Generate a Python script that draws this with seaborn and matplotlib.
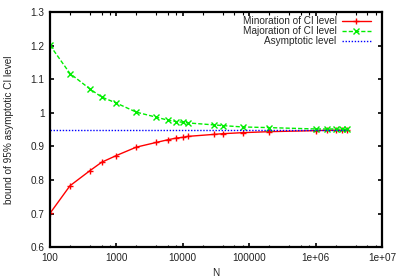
import matplotlib
matplotlib.use("Agg")
import matplotlib.pyplot as plt
import matplotlib.ticker as mticker
import seaborn as sns
import pandas as pd

N = [100, 200, 400, 600, 1000, 2000, 4000, 6000, 8000, 10000, 12000,
     30000, 40000, 80000, 200000, 1000000, 1500000, 2000000, 2500000, 3000000]
minoration = [0.701, 0.783, 0.828, 0.853, 0.873, 0.898, 0.912, 0.920, 0.925, 0.927,
              0.930, 0.936, 0.938, 0.941, 0.944, 0.947, 0.948, 0.948, 0.948, 0.948]
majoration = [1.201, 1.117, 1.071, 1.047, 1.029, 1.002, 0.987, 0.978, 0.974, 0.972,
              0.970, 0.964, 0.962, 0.958, 0.956, 0.952, 0.952, 0.952, 0.951, 0.951]
asymptotic = [0.95] * len(N)

df = pd.DataFrame({'N': N, 'min': minoration, 'maj': majoration, 'asy': asymptotic})

sns.set_style("ticks")
plt.rcParams['font.family'] = ['Liberation Sans', 'DejaVu Sans']

fig = plt.figure(figsize=(4, 2.8), dpi=100)
ax = fig.add_axes([0.125, 0.117, 0.83, 0.84])

sns.lineplot(x='N', y='min', data=df, ax=ax, color='#ff0000', lw=1.0,
             marker='+', markersize=4.5, markeredgewidth=1.0, markeredgecolor='#ff0000',
             label='Minoration of CI level')
sns.lineplot(x='N', y='maj', data=df, ax=ax, color='#00ee00', lw=1.0,
             marker='x', markersize=3.8, markeredgewidth=1.0, markeredgecolor='#00ee00',
             label='Majoration of CI level')
sns.lineplot(x='N', y='asy', data=df, ax=ax, color='#0000ff', lw=1.0,
             label='Asymptotic level')
ax.lines[1].set_linestyle((0, (3, 1.5)))
ax.lines[2].set_linestyle((0, (1, 1.2)))

ax.set_xscale('log')
ax.set_xlim(100, 1e7)
ax.set_ylim(0.6, 1.3)
ax.xaxis.set_minor_locator(mticker.LogLocator(base=10, subs=(2, 4, 6, 8), numticks=10))
ax.xaxis.set_minor_formatter(mticker.NullFormatter())
ax.set_xticks([100, 1000, 10000, 100000, 1e6, 1e7])
ax.set_xticklabels(['100', '1000', '10000', '100000', '1e+06', '1e+07'])
ax.set_yticks([0.6, 0.7, 0.8, 0.9, 1.0, 1.1, 1.2, 1.3])
ax.set_yticklabels(['0.6', '0.7', '0.8', '0.9', '1', '1.1', '1.2', '1.3'])

ax.tick_params(which='major', direction='in', length=3, width=1.2, top=True, right=True,
               labelsize=7.2, pad=4, color='black', labelcolor='#222222')
ax.tick_params(which='minor', direction='in', length=1.8, width=0.8, top=True, right=True,
               color='black')
for s in ax.spines.values():
    s.set_linewidth(1.6)
    s.set_color('black')

ax.set_xlabel('N', fontsize=7.2, labelpad=4, color='#222222')
ax.set_ylabel('bound of 95% asymptotic CI level', fontsize=7.2, labelpad=12, color='#222222')

leg = ax.legend(loc='upper right', bbox_to_anchor=(0.972, 0.99), frameon=False,
                markerfirst=False, fontsize=7.2,
                handlelength=2.9, handletextpad=0.5, labelspacing=0.0,
                borderaxespad=0.0, borderpad=0.2)

plt.savefig('out.png', dpi=100)
